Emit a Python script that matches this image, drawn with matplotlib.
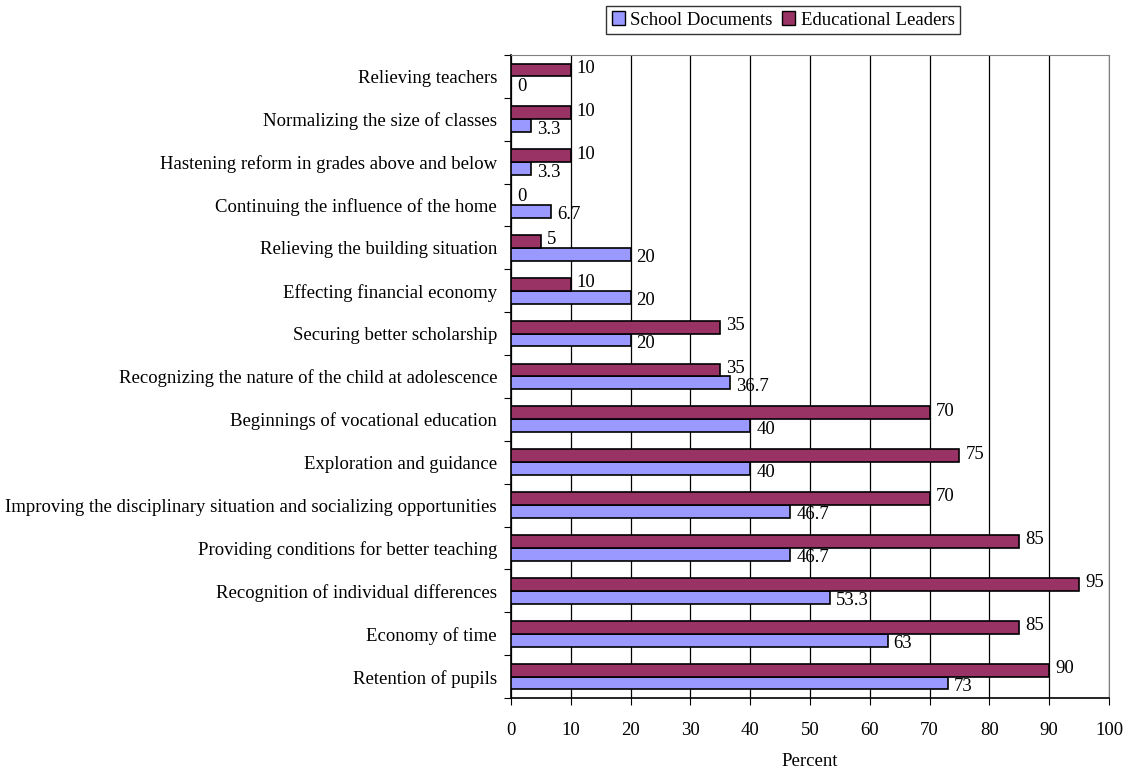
import numpy as np
import matplotlib.pyplot as plt
from matplotlib.patches import Patch

plt.rcParams['font.family'] = ['Liberation Serif', 'DejaVu Serif']

categories = [
    "Retention of pupils",
    "Economy of time",
    "Recognition of individual differences",
    "Providing conditions for better teaching",
    "Improving the disciplinary situation and socializing opportunities",
    "Exploration and guidance",
    "Beginnings of vocational education",
    "Recognizing the nature of the child at adolescence",
    "Securing better scholarship",
    "Effecting financial economy",
    "Relieving the building situation",
    "Continuing the influence of the home",
    "Hastening reform in grades above and below",
    "Normalizing the size of classes",
    "Relieving teachers",
]
school_docs = [73, 63, 53.3, 46.7, 46.7, 40, 40, 36.7, 20, 20, 20, 6.7, 3.3, 3.3, 0]
edu_leaders = [90, 85, 95, 85, 70, 75, 70, 35, 35, 10, 5, 0, 10, 10, 10]
doc_labels = ["73", "63", "53.3", "46.7", "46.7", "40", "40", "36.7", "20", "20", "20", "6.7", "3.3", "3.3", "0"]
lead_labels = ["90", "85", "95", "85", "70", "75", "70", "35", "35", "10", "5", "0", "10", "10", "10"]

blue = "#9999FF"
maroon = "#993366"
fs = 13.5

fig = plt.figure(figsize=(11.3, 7.7), dpi=100)
ax = fig.add_axes([0.4522, 0.0935, 0.5292, 0.8351])

y = np.arange(len(categories))
h = 0.3
ax.barh(y - h / 2, school_docs, height=h, color=blue, edgecolor="black", linewidth=1.2, zorder=3)
ax.barh(y + h / 2, edu_leaders, height=h, color=maroon, edgecolor="black", linewidth=1.2, zorder=3)

for yi, v, s in zip(y, school_docs, doc_labels):
    ax.text(v + 1.0, yi - h / 2 - 0.08, s, va="center", ha="left", fontsize=fs, zorder=4)
for yi, v, s in zip(y, edu_leaders, lead_labels):
    ax.text(v + 1.0, yi + h / 2 + 0.04, s, va="center", ha="left", fontsize=fs, zorder=4)

ax.set_xlim(0, 100)
ax.set_ylim(-0.5, len(categories) - 0.5)
ax.set_xticks(np.arange(0, 101, 10))
ax.tick_params(axis="x", labelsize=fs, length=5, direction="out", pad=12)
ax.xaxis.grid(True, color="black", linewidth=0.9, zorder=0)

ax.set_yticks(np.arange(-0.5, len(categories), 1))
ax.set_yticklabels([])
ax.set_yticks(y, minor=True)
ax.set_yticklabels(categories, minor=True, fontsize=fs)
ax.tick_params(axis="y", which="major", length=5, direction="out")
ax.tick_params(axis="y", which="minor", length=0, pad=10)

ax.set_xlabel("Percent", fontsize=fs, labelpad=10)

for side in ["top", "right"]:
    ax.spines[side].set_color("#808080")
for side in ["left", "bottom"]:
    ax.spines[side].set_color("black")
    ax.spines[side].set_linewidth(1.2)

handles = [Patch(facecolor=blue, edgecolor="black", label="School Documents"),
           Patch(facecolor=maroon, edgecolor="black", label="Educational Leaders")]
fig.legend(handles=handles, loc="center", bbox_to_anchor=(0.693, 0.974), ncol=2,
           fontsize=fs, frameon=True, fancybox=False, edgecolor="black",
           handlelength=0.7, handleheight=0.7, handletextpad=0.3, columnspacing=0.5,
           borderpad=0.3)

fig.savefig("out.png", dpi=100)
